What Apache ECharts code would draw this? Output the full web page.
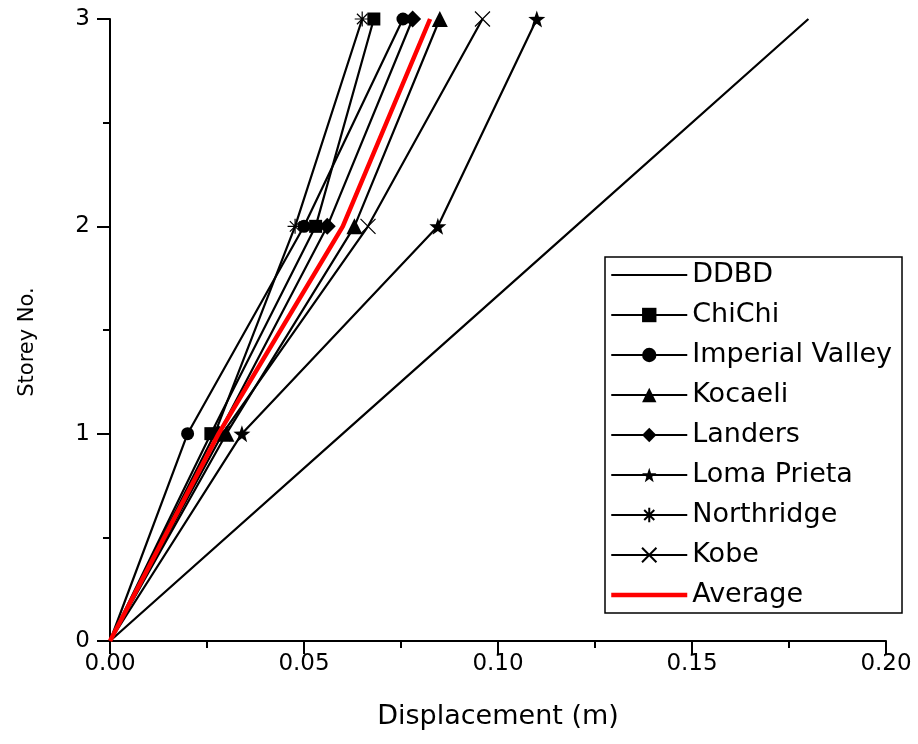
<!DOCTYPE html>
<html>
<head>
<meta charset="utf-8">
<script src="https://cdn.jsdelivr.net/npm/echarts@6/dist/echarts.min.js"></script>
<style>
  html, body { margin: 0; padding: 0; background: #fff; }
  #chart { width: 918px; height: 744px; }
</style>
</head>
<body>
<div id="chart"></div>
<script>
// storey levels (y) and displacements (m)
const storeys = [0, 1, 2, 3];
const ddbd = [0, 0.06, 0.12, 0.18];
const chiChi = [0, 0.026, 0.053, 0.068];
const imperialValley = [0, 0.020, 0.050, 0.0755];
const kocaeli = [0, 0.030, 0.063, 0.085];
const landers = [0, 0.028, 0.056, 0.078];
const lomaPrieta = [0, 0.034, 0.0845, 0.110];
const northridge = [0, 0.027, 0.0477, 0.065];
const kobe = [0, 0.029, 0.0665, 0.096];
const average = [0, 0.028, 0.060, 0.0825];

const legendNames = ["DDBD", "ChiChi", "Imperial Valley", "Kocaeli", "Landers", "Loma Prieta", "Northridge", "Kobe", "Average"];

const FONT = "DejaVu Sans";
const LINE_W = 2.2;

const starPath = "path://M0,-10 L2.35,-3.24 L9.51,-3.09 L3.8,1.24 L5.88,8.09 L0,4 L-5.88,8.09 L-3.8,1.24 L-9.51,-3.09 L-2.35,-3.24 Z";
const asteriskPath = "path://M-10,0 L10,0 M0,-10 L0,10 M-7,-7 L7,7 M-7,7 L7,-7";
const crossPath = "path://M-8,-8 L8,8 M-8,8 L8,-8";

function pts(xs) {
  // origin point has no marker
  return xs.map((x, i) => i === 0 ? { value: [x, storeys[i]], symbol: "none" } : [x, storeys[i]]);
}

function quake(name, xs, symbol, size, hollow) {
  return {
    name: name,
    type: "line",
    data: pts(xs),
    symbol: symbol,
    symbolSize: size,
    showAllSymbol: true,
    lineStyle: { color: "#000", width: LINE_W },
    itemStyle: hollow
      ? { color: "rgba(0,0,0,0)", borderColor: "#000", borderWidth: 1.2 }
      : { color: "#000", borderWidth: 0 },
    emphasis: { disabled: true },
    z: 2
  };
}

const chart = echarts.init(document.getElementById("chart"));

const axisCommon = {
  type: "value",
  min: 0,
  nameLocation: "middle",
  axisLine: { show: true, onZero: false, lineStyle: { color: "#000", width: 2 } },
  axisTick: { show: true, inside: false, length: 13, lineStyle: { color: "#000", width: 2 } },
  minorTick: { show: true, splitNumber: 2, length: 7, lineStyle: { color: "#000", width: 2 } },
  splitLine: { show: false }
};

const option = {
  backgroundColor: "#fff",
  animation: false,
  grid: { left: 110, right: 32, top: 19, bottom: 103 },
  xAxis: Object.assign({}, axisCommon, {
    max: 0.2,
    interval: 0.05,
    name: "Displacement (m)",
    nameGap: 62,
    nameTextStyle: { fontFamily: FONT, fontSize: 27, color: "#000" },
    axisLabel: {
      fontFamily: FONT, fontSize: 23, color: "#000", margin: 12,
      formatter: v => v.toFixed(2)
    }
  }),
  yAxis: Object.assign({}, axisCommon, {
    max: 3,
    interval: 1,
    name: "Storey No.",
    nameGap: 72,
    nameTextStyle: { fontFamily: FONT, fontSize: 21, color: "#000", padding: [0, 24, 0, 0] },
    axisLabel: { fontFamily: FONT, fontSize: 23, color: "#000", margin: 20 }
  }),
  legend: {
    orient: "vertical",
    left: 605,
    top: 257,
    padding: [3, 10, 3, 4],
    borderColor: "#000",
    borderWidth: 1.5,
    itemWidth: 76,
    itemHeight: 18,
    itemGap: 10,
    textStyle: { fontFamily: FONT, fontSize: 27, color: "#000", lineHeight: 30 },
    data: legendNames.map(n => {
      if (n === "DDBD") return { name: n, itemStyle: { opacity: 0 }, lineStyle: { width: LINE_W, color: "#000" } };
      if (n === "Average") return { name: n, itemStyle: { opacity: 0 }, lineStyle: { width: 4.5, color: "#ff0000" } };
      return { name: n, lineStyle: { width: LINE_W, color: "#000" } };
    })
  },
  series: [
    {
      name: "DDBD",
      type: "line",
      data: ddbd.map((x, i) => [x, storeys[i]]),
      symbol: "none",
      lineStyle: { color: "#000", width: LINE_W },
      itemStyle: { color: "#000" },
      emphasis: { disabled: true },
      z: 2
    },
    quake("ChiChi", chiChi, "rect", 13, false),
    quake("Imperial Valley", imperialValley, "circle", 13, false),
    quake("Kocaeli", kocaeli, "triangle", 16, false),
    quake("Landers", landers, "diamond", 17, false),
    quake("Loma Prieta", lomaPrieta, starPath, 17, false),
    quake("Northridge", northridge, asteriskPath, 15, true),
    quake("Kobe", kobe, crossPath, 15, true),
    {
      name: "Average",
      type: "line",
      data: average.map((x, i) => [x, storeys[i]]),
      symbol: "none",
      lineStyle: { color: "#ff0000", width: 4.5 },
      itemStyle: { color: "#ff0000" },
      emphasis: { disabled: true },
      z: 3
    }
  ]
};

chart.setOption(option);
</script>
</body>
</html>
